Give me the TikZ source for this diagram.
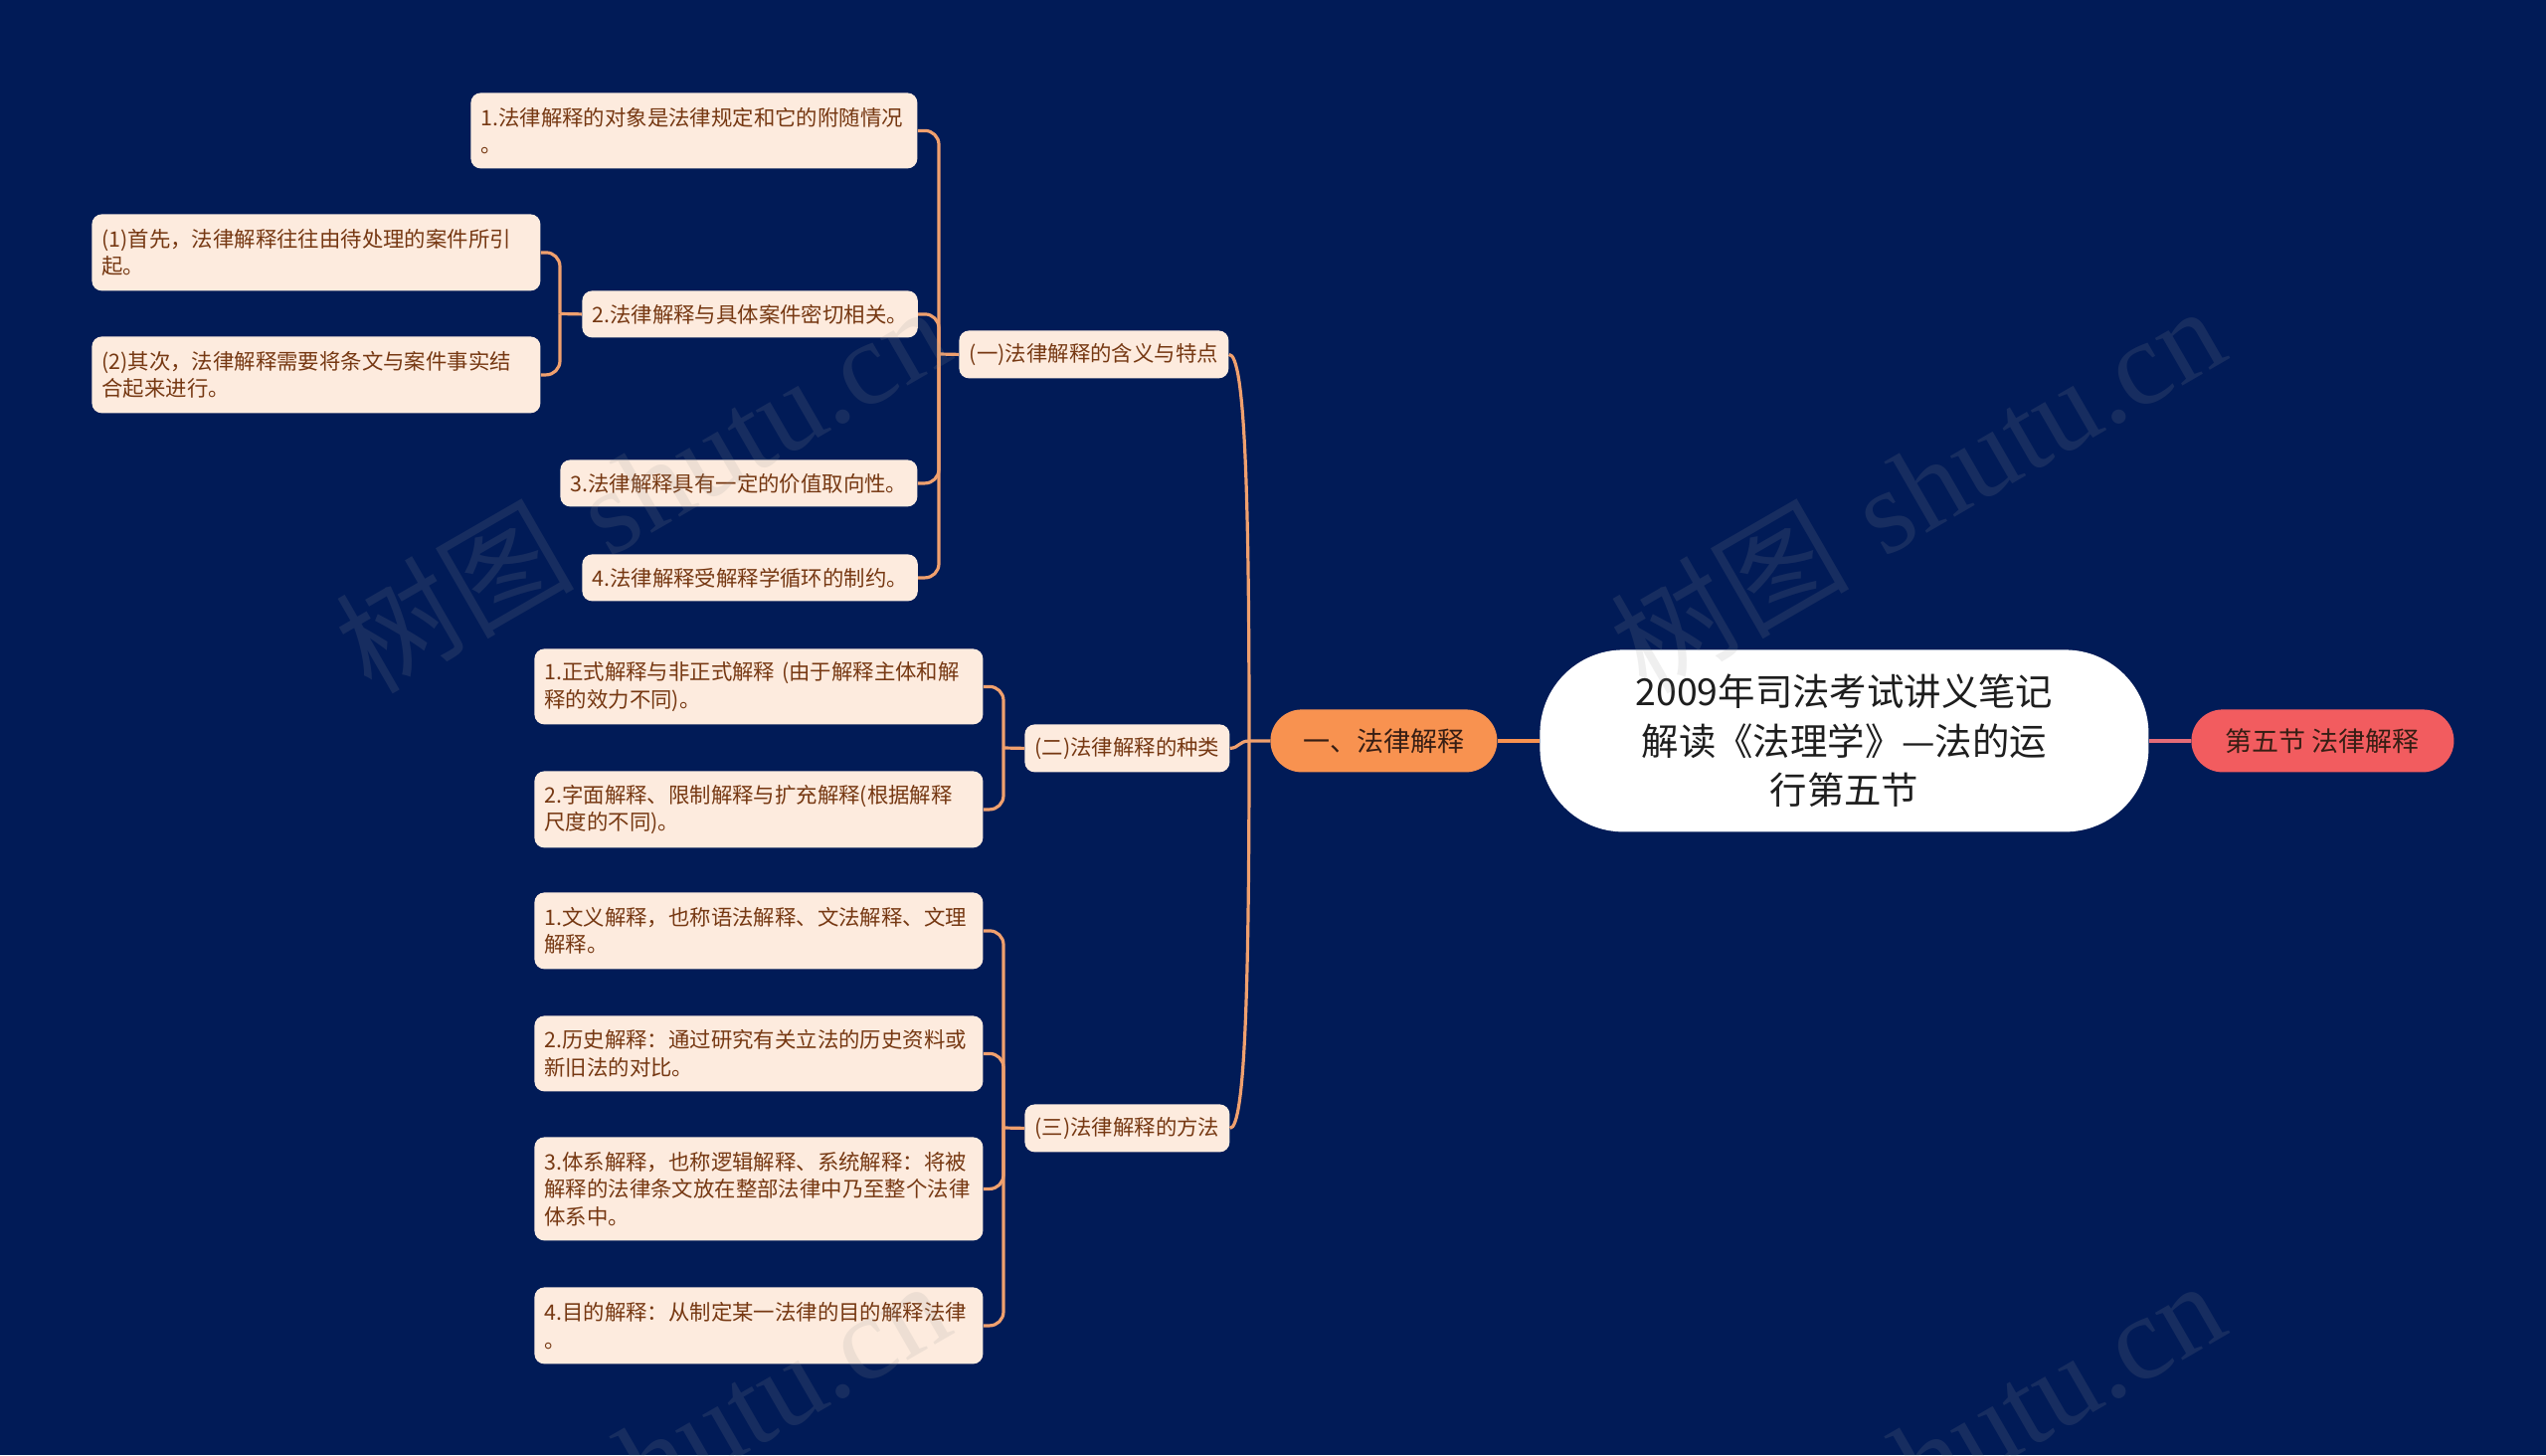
\documentclass[tikz,border=0pt]{standalone}
\usepackage{fontspec}
\newfontfamily\cjk{Noto Sans CJK SC}
\newfontfamily\wmserif{Liberation Serif}
\definecolor{bg}{RGB}{1,27,87}
\definecolor{leaffill}{RGB}{253,235,222}
\definecolor{leaftext}{RGB}{118,56,18}
\definecolor{linec}{RGB}{240,160,110}
\definecolor{lfill}{RGB}{248,146,80}
\definecolor{rfill}{RGB}{242,92,95}
\definecolor{darktext}{RGB}{55,30,20}
\definecolor{rline}{RGB}{228,108,120}
\definecolor{wmc}{RGB}{150,150,150}
\tikzset{
  leaf/.style={fill=leaffill, text=leaftext, rounded corners=5pt,
    font=\cjk\fontsize{10.7}{13.8}\selectfont, inner xsep=5pt, inner ysep=0pt,
    anchor=north west},
  single/.style={leaf, minimum height=23.5pt},
  multi/.style={leaf, align=left, text width=215.5pt},
  conn/.style={draw=linec, line width=1.6pt},
  elbow/.style={conn, rounded corners=7pt},
  topnode/.style={anchor=north west, minimum height=31.5pt, rounded corners=15.7pt,
    text=darktext, font=\cjk\fontsize{13.5}{16}\selectfont, inner sep=0pt},
  wm/.style={text=wmc, opacity=0.15, font=\fontsize{60}{60}\selectfont, rotate=30},
}
\begin{document}
\begin{tikzpicture}[x=0.5pt,y=-0.5pt]
\useasboundingbox (0,0) rectangle (2560,1463);
\fill[bg] (0,0) rectangle (2560,1463);

% root and first level
\node[anchor=north west, fill=white, rounded corners=42pt, minimum width=306pt,
  minimum height=91.5pt, inner sep=0pt, align=center, text={rgb,255:red,30;green,30;blue,30},
  font=\cjk\fontsize{18.7}{24.8}\selectfont] (root) at (1548,653)
  {2009年司法考试讲义笔记\\解读《法理学》—法的运\\行第五节};
\node[topnode, fill=lfill, minimum width=114pt] (L) at (1277,713) {一、法律解释};
\node[topnode, fill=rfill, minimum width=132pt] (R) at (2203,713) {第五节 法律解释};

% second level
\node[single, minimum width=135.5pt, minimum height=24pt] (A) at (964,332) {(一)法律解释的含义与特点};
\node[single, minimum width=103pt, minimum height=24pt] (B) at (1030,728) {(二)法律解释的种类};
\node[single, minimum width=103pt, minimum height=24pt] (C) at (1030,1110) {(三)法律解释的方法};

% under A
\node[multi, text width=214.5pt, minimum height=38pt] (A1) at (473,93) {1.法律解释的对象是法律规定和它的附随情况\\。};
\node[single, minimum width=168.5pt] (A2) at (585,292) {2.法律解释与具体案件密切相关。};
\node[single, minimum width=179.5pt] (A3) at (563,462) {3.法律解释具有一定的价值取向性。};
\node[single, minimum width=168.5pt] (A4) at (585,557) {4.法律解释受解释学循环的制约。};
\node[multi, minimum height=38.5pt] (A2a) at (92,215) {(1)首先，法律解释往往由待处理的案件所引\\起。};
\node[multi, minimum height=38.5pt] (A2b) at (92,338) {(2)其次，法律解释需要将条文与案件事实结\\合起来进行。};

% under B
\node[multi, minimum height=38pt] (B1) at (537,652) {1.正式解释与非正式解释 (由于解释主体和解\\释的效力不同)。};
\node[multi, minimum height=38.5pt] (B2) at (537,775) {2.字面解释、限制解释与扩充解释(根据解释\\尺度的不同)。};

% under C
\node[multi, minimum height=38.5pt] (C1) at (537,897) {1.文义解释，也称语法解释、文法解释、文理\\解释。};
\node[multi, minimum height=38pt] (C2) at (537,1021) {2.历史解释：通过研究有关立法的历史资料或\\新旧法的对比。};
\node[multi, minimum height=52pt] (C3) at (537,1143) {3.体系解释，也称逻辑解释、系统解释：将被\\解释的法律条文放在整部法律中乃至整个法律\\体系中。};
\node[multi, minimum height=38.5pt] (C4) at (537,1294) {4.目的解释：从制定某一法律的目的解释法律\\。};

% connectors root
\draw[draw=lfill, line width=2pt] (root.west) -- (L.east);
\draw[draw=rline, line width=2pt] (root.east) -- (R.west);

% connectors L -> A,B,C
\coordinate (hL) at (1256,745);
\draw[conn] (L.west) -- (hL);
\draw[conn] (hL) .. controls (1256,500) and (1252,356) .. (A.east);
\draw[conn] (hL) .. controls (1246,745) and (1246,752) .. (B.east);
\draw[conn] (hL) .. controls (1256,990) and (1252,1134) .. (C.east);

% A children
\coordinate (hA) at (944,356);
\draw[conn] (A.west) -- (hA);
\draw[elbow] (hA) |- (A1.east);
\draw[elbow] (hA) |- (A2.east);
\draw[elbow] (hA) |- (A3.east);
\draw[elbow] (hA) |- (A4.east);

% A2 children
\coordinate (hA2) at (563,315.5);
\draw[conn] (A2.west) -- (hA2);
\draw[elbow] (hA2) |- (A2a.east);
\draw[elbow] (hA2) |- (A2b.east);

% B children
\coordinate (hB) at (1009,752);
\draw[conn] (B.west) -- (hB);
\draw[elbow] (hB) |- (B1.east);
\draw[elbow] (hB) |- (B2.east);

% C children
\coordinate (hC) at (1009,1134);
\draw[conn] (C.west) -- (hC);
\draw[elbow] (hC) |- (C1.east);
\draw[elbow] (hC) |- (C2.east);
\draw[elbow] (hC) |- (C3.east);
\draw[elbow] (hC) |- (C4.east);

% watermarks
\node[wm] (wm1) at (645,490) {{\cjk 树图} {\wmserif shutu.cn}};
\node[wm] (wm2) at (1927,490) {{\cjk 树图} {\wmserif shutu.cn}};
\node[wm] (wm3) at (645,1470) {{\cjk 树图} {\wmserif shutu.cn}};
\node[wm] (wm4) at (1927,1470) {{\cjk 树图} {\wmserif shutu.cn}};
\end{tikzpicture}
\end{document}
